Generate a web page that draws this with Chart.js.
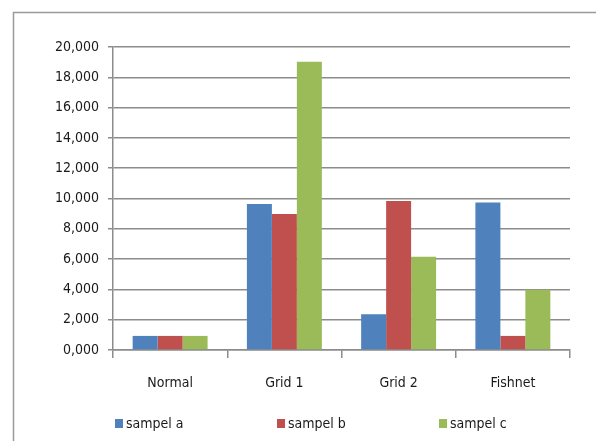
<!DOCTYPE html>
<html>
<head>
<meta charset="utf-8">
<script src="https://cdn.jsdelivr.net/npm/chart.js@4/dist/chart.umd.min.js"></script>
<style>
  html, body { margin: 0; padding: 0; background: #fff; }
  #wrap { position: relative; width: 596px; height: 441px; }
</style>
</head>
<body>
<div id="wrap"><canvas id="c" width="596" height="441"></canvas></div>
<script>
const categories = ['Normal', 'Grid 1', 'Grid 2', 'Fishnet'];
const seriesNames = ['sampel a', 'sampel b', 'sampel c'];
const sampelA = [0.93, 9.63, 2.36, 9.74];
const sampelB = [0.93, 8.97, 9.83, 0.93];
const sampelC = [0.93, 19.02, 6.15, 3.97];
const tickLabels = ['0,000', '2,000', '4,000', '6,000', '8,000', '10,000',
                    '12,000', '14,000', '16,000', '18,000', '20,000'];

const colors = ['#4F81BD', '#C0504D', '#9BBB59'];
const FONT = "'DejaVu Sans Condensed', 'DejaVu Sans', sans-serif";
const GRID = '#8c8c8c';

// Outer frame of the chart
const framePlugin = {
  id: 'frame',
  beforeDraw(chart) {
    const ctx = chart.ctx;
    ctx.save();
    ctx.strokeStyle = '#9a9a9a';
    ctx.lineWidth = 1.5;
    ctx.strokeRect(13.5, 12.5, 800, 600);
    ctx.restore();
  }
};

// Legend row drawn under the axis
const legendRow = {
  id: 'legendRow',
  afterDraw(chart) {
    const ctx = chart.ctx;
    ctx.save();
    ctx.font = '14px ' + FONT;
    ctx.textBaseline = 'middle';
    chart.data.datasets.forEach((ds, i) => {
      const x = 115 + i * 162;
      const y = 424;
      ctx.fillStyle = ds.backgroundColor;
      ctx.fillRect(x, y - 5, 8, 9);
      ctx.fillStyle = '#1a1a1a';
      ctx.fillText(ds.label, x + 11, y);
    });
    ctx.restore();
  }
};

const datasets = [sampelA, sampelB, sampelC].map((vals, i) => ({
  label: seriesNames[i],
  data: vals,
  backgroundColor: colors[i],
  borderWidth: 0,
  categoryPercentage: 0.656,
  barPercentage: 1.0
}));

new Chart(document.getElementById('c'), {
  type: 'bar',
  data: { labels: categories, datasets },
  options: {
    responsive: false,
    animation: false,
    layout: { padding: { left: 0, right: 26, top: 47, bottom: 36 } },
    plugins: {
      legend: { display: false },
      tooltip: { enabled: false }
    },
    scales: {
      x: {
        grid: {
          display: true,
          drawOnChartArea: false,
          drawTicks: true,
          tickLength: 8,
          color: GRID,
          lineWidth: 1.5
        },
        border: { color: GRID, width: 1.5 },
        ticks: {
          color: '#1a1a1a',
          font: { family: FONT, size: 14 },
          padding: 17,
          maxRotation: 0
        },
        afterFit(scale) { scale.height = 55; }
      },
      y: {
        min: 0,
        max: 20,
        grid: {
          color: GRID,
          lineWidth: 1.5,
          tickLength: 5
        },
        border: { color: GRID, width: 1.5 },
        ticks: {
          stepSize: 2,
          color: '#1a1a1a',
          font: { family: FONT, size: 14 },
          padding: 9,
          callback: (v, i) => tickLabels[i]
        },
        afterFit(scale) { scale.width = 113; }
      }
    }
  },
  plugins: [framePlugin, legendRow]
});
</script>
</body>
</html>
